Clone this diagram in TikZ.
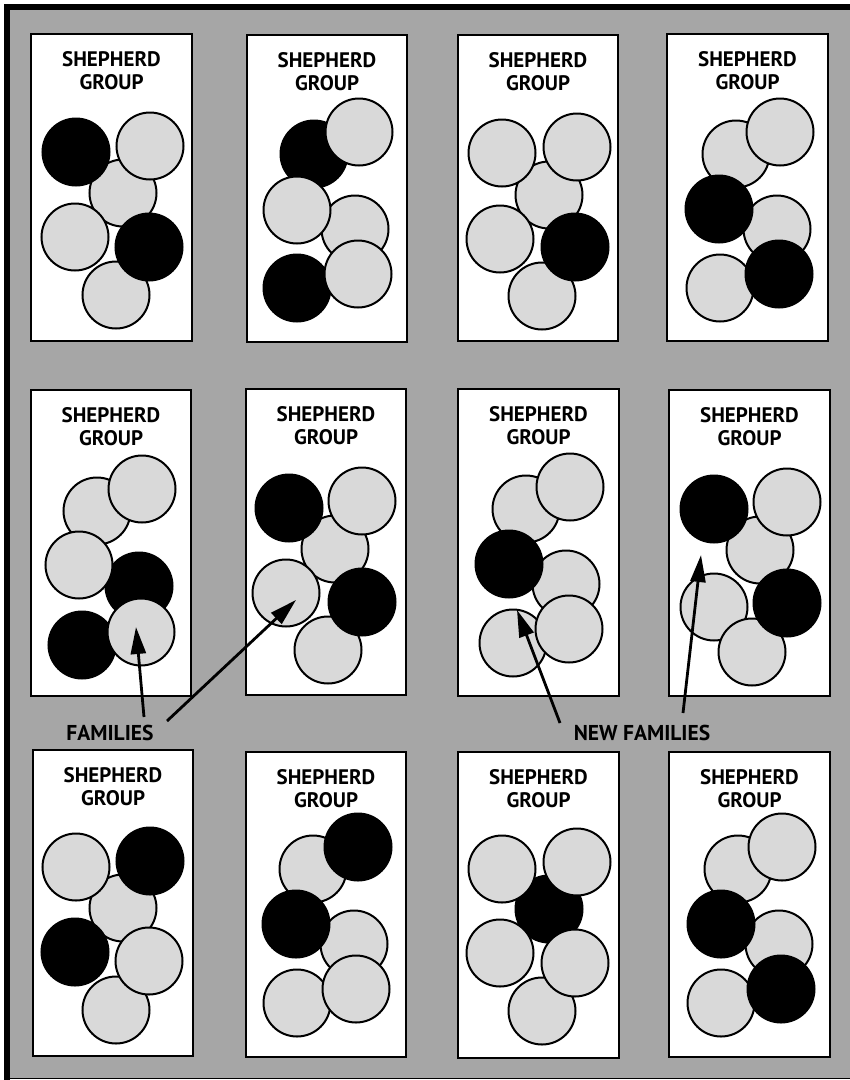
\documentclass[tikz,border=0pt]{standalone}
\usepackage{fontspec}
\setmainfont{PT Sans}
\usetikzlibrary{arrows.meta}
\definecolor{bggrey}{HTML}{A6A6A6}
\definecolor{famgrey}{HTML}{D9D9D9}
\tikzset{
  grp/.style={draw=black, line width=2.5pt, fill=white},
  gfam/.style={circle, draw=black, line width=2pt, fill=famgrey, minimum size=67pt, inner sep=0pt},
  bfam/.style={circle, draw=black, line width=2pt, fill=black, minimum size=67pt, inner sep=0pt},
  title/.style={align=center, font=\bfseries\fontsize{21}{23}\selectfont, inner sep=0pt},
  lbl/.style={font=\bfseries\fontsize{21.5}{23}\selectfont, inner sep=0pt},
  pointer/.style={line width=2.8pt, -{Triangle[length=27pt,width=15pt]}}
}
\newcommand{\shepbox}[5]{%
  \draw[grp] (#2,#3) rectangle (#4,#5);
  \node[title] (#1t) at ({(#2+#4)/2},#3+37) {SHEPHERD\\GROUP};
}
\begin{document}
\begin{tikzpicture}[x=1pt,y=-1pt]
\useasboundingbox (0,0) rectangle (850,1080);
% frame
\fill[bggrey] (4,4) rectangle (850,1079);
\fill[black] (4,4) rectangle (850,10);
\fill[black] (4,4) rectangle (10,1080);
\draw[black, line width=1pt] (10,1078) -- (850,1078);
% boxes
\shepbox{b11}{31}{34}{192}{341}
\shepbox{b12}{247}{35}{407}{342}
\shepbox{b13}{458}{35}{618}{341}
\shepbox{b14}{667}{34}{828}{341}
\shepbox{b21}{31}{390}{191}{696}
\shepbox{b22}{246}{389}{406}{695}
\shepbox{b23}{458}{389}{619}{696}
\shepbox{b24}{669}{390}{830}{696}
\shepbox{b31}{33}{750}{193}{1056}
\shepbox{b32}{246}{752}{406}{1057}
\shepbox{b33}{458}{752}{619}{1058}
\shepbox{b34}{669}{752}{830}{1057}
% box 1,1
\node[gfam] (c11c) at (123,193) {};
\node[gfam] (c11f) at (116,295) {};
\node[gfam] (c11d) at (75,237) {};
\node[bfam] (c11e) at (149,247) {};
\node[bfam] (c11a) at (76,152) {};
\node[gfam] (c11b) at (150,146) {};
% box 1,2
\node[bfam] (c12a) at (314,154) {};
\node[gfam] (c12b) at (359,132) {};
\node[gfam] (c12d) at (355,229) {};
\node[gfam] (c12c) at (297,210) {};
\node[bfam] (c12f) at (297,288) {};
\node[gfam] (c12e) at (358,274) {};
% box 1,3
\node[gfam] (c13c) at (549,195) {};
\node[gfam] (c13f) at (542,296) {};
\node[gfam] (c13d) at (500,239) {};
\node[bfam] (c13e) at (575,247) {};
\node[gfam] (c13a) at (502,153) {};
\node[gfam] (c13b) at (577,147) {};
% box 1,4
\node[gfam] (c14a) at (736,154) {};
\node[gfam] (c14b) at (780,132) {};
\node[gfam] (c14d) at (777,229) {};
\node[bfam] (c14c) at (719,209) {};
\node[gfam] (c14f) at (720,288) {};
\node[bfam] (c14e) at (779,274) {};
% box 2,1
\node[gfam] (c21a) at (97,511) {};
\node[gfam] (c21b) at (142,489) {};
\node[bfam] (c21d) at (139,586) {};
\node[gfam] (c21c) at (79,565) {};
\node[bfam] (c21e) at (82,645) {};
\node[gfam] (c21f) at (141,632) {};
% box 2,2
\node[gfam] (c22c) at (335,549) {};
\node[gfam] (c22f) at (328,650) {};
\node[gfam] (c22d) at (286,593) {};
\node[bfam] (c22e) at (362,602) {};
\node[bfam] (c22a) at (289,508) {};
\node[gfam] (c22b) at (362,501) {};
% box 2,3
\node[gfam] (c23a) at (526,509) {};
\node[gfam] (c23b) at (570,487) {};
\node[gfam] (c23d) at (566,584) {};
\node[bfam] (c23c) at (509,564) {};
\node[gfam] (c23e) at (513,643) {};
\node[gfam] (c23f) at (569,629) {};
% box 2,4
\node[gfam] (c24c) at (760,550) {};
\node[gfam] (c24d) at (714,607) {};
\node[gfam] (c24f) at (752,652) {};
\node[bfam] (c24e) at (787,603) {};
\node[bfam] (c24a) at (714,509) {};
\node[gfam] (c24b) at (787,502) {};
% box 3,1
\node[gfam] (c31c) at (123,908) {};
\node[gfam] (c31f) at (116,1010) {};
\node[bfam] (c31d) at (75,952) {};
\node[gfam] (c31e) at (149,961) {};
\node[gfam] (c31a) at (76,867) {};
\node[bfam] (c31b) at (150,861) {};
% box 3,2
\node[gfam] (c32a) at (313,869) {};
\node[bfam] (c32b) at (358,847) {};
\node[gfam] (c32d) at (354,944) {};
\node[bfam] (c32c) at (296,924) {};
\node[gfam] (c32f) at (297,1003) {};
\node[gfam] (c32e) at (356,989) {};
% box 3,3
\node[bfam] (c33c) at (549,909) {};
\node[gfam] (c33f) at (542,1011) {};
\node[gfam] (c33d) at (500,953) {};
\node[gfam] (c33e) at (575,963) {};
\node[gfam] (c33a) at (502,869) {};
\node[gfam] (c33b) at (577,862) {};
% box 3,4
\node[gfam] (c34a) at (738,869) {};
\node[gfam] (c34b) at (782,847) {};
\node[gfam] (c34d) at (779,944) {};
\node[bfam] (c34c) at (721,924) {};
\node[gfam] (c34f) at (721,1003) {};
\node[bfam] (c34e) at (781,989) {};
% labels
\node[lbl] (fam) at (110,733) {FAMILIES};
\node[lbl] (newfam) at (642,733) {NEW FAMILIES};
% arrow ends
\coordinate (fa1) at (144,717);
\coordinate (ft1) at (136,627);
\coordinate (fa2) at (167,721);
\coordinate (ft2) at (296,600);
\coordinate (na1) at (560,723);
\coordinate (nt1) at (517,610);
\coordinate (na2) at (683,713);
\coordinate (nt2) at (701,555);
\draw[pointer] (fa1) -- (ft1);
\draw[pointer] (fa2) -- (ft2);
\draw[pointer] (na1) -- (nt1);
\draw[pointer] (na2) -- (nt2);
\end{tikzpicture}
\end{document}
